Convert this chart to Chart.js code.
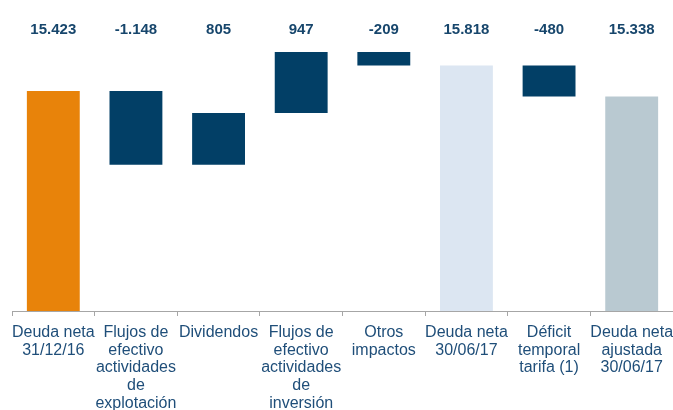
<!DOCTYPE html>
<html>
<head>
<meta charset="utf-8">
<script src="https://cdn.jsdelivr.net/npm/chart.js@4/dist/chart.umd.min.js"></script>
<style>
  body { margin: 0; background: #fff; }
  #wrap { width: 673px; height: 410px; position: relative; }
</style>
</head>
<body>
<div id="wrap"><canvas id="myChart"></canvas></div>
<script>
// categories (multi-line labels under the axis)
const categories = [
  ['Deuda neta', '31/12/16'],
  ['Flujos de', 'efectivo', 'actividades', 'de', 'explotación'],
  ['Dividendos'],
  ['Flujos de', 'efectivo', 'actividades', 'de', 'inversión'],
  ['Otros', 'impactos'],
  ['Deuda neta', '30/06/17'],
  ['Déficit', 'temporal', 'tarifa (1)'],
  ['Deuda neta', 'ajustada', '30/06/17']
];
// values shown above each bar
const values = [15423, -1148, 805, 947, -209, 15818, -480, 15338];
// true = full bar (total), false = step from running total
const isTotal = [true, false, false, false, false, true, false, true];
const barColors = ['#E8830A', '#023F66', '#023F66', '#023F66', '#023F66', '#DCE6F2', '#023F66', '#B9C9D1'];

// spanish thousands format, e.g. 15.423 / -1.148
function fmt(v) {
  let s = Math.abs(v).toString().replace(/\B(?=(\d{3})+(?!\d))/g, '.');
  return (v < 0 ? '-' : '') + s;
}

let running = 0;
let ranges = [];
for (let i = 0; i < values.length; i++) {
  if (isTotal[i]) {
    ranges.push([0, values[i]]);
    running = values[i];
  } else {
    ranges.push([running, running + values[i]]);
    running += values[i];
  }
}

const valueLabels = {
  id: 'valueLabels',
  afterDatasetsDraw(chart) {
    const ctx = chart.ctx;
    const meta = chart.getDatasetMeta(0);
    ctx.save();
    ctx.font = "bold 15px 'Liberation Sans', Arial, sans-serif";
    ctx.fillStyle = '#17466C';
    ctx.textAlign = 'center';
    ctx.textBaseline = 'middle';
    meta.data.forEach(function(bar, i) {
      ctx.fillText(fmt(values[i]), bar.x, 30);
    });
    ctx.restore();
  }
};

Chart.defaults.font.family = "'Liberation Sans', Arial, sans-serif";

new Chart(document.getElementById('myChart'), {
  type: 'bar',
  data: {
    labels: categories,
    datasets: [{
      data: ranges,
      backgroundColor: barColors,
      borderWidth: 0,
      categoryPercentage: 1,
      barPercentage: 0.64
    }]
  },
  options: {
    responsive: true,
    maintainAspectRatio: false,
    animation: false,
    layout: { padding: { top: 41, left: 12, right: 0, bottom: 0 } },
    plugins: {
      legend: { display: false },
      tooltip: { enabled: false }
    },
    scales: {
      x: {
        grid: {
          display: true,
          drawOnChartArea: false,
          drawTicks: true,
          tickLength: 5,
          offset: true,
          color: '#A6A6A6'
        },
        border: { display: true, color: '#A6A6A6', width: 1 },
        ticks: {
          maxRotation: 0,
          autoSkip: false,
          padding: 8,
          color: '#1F4E79',
          font: { size: 16, lineHeight: 1.1 }
        },
        afterFit: function(axis) {
          axis.height = 99;
          axis.paddingLeft = 0;
          axis.paddingRight = 0;
        }
      },
      y: {
        display: false,
        min: 12000,
        max: 16200
      }
    }
  },
  plugins: [valueLabels]
});
</script>
</body>
</html>
